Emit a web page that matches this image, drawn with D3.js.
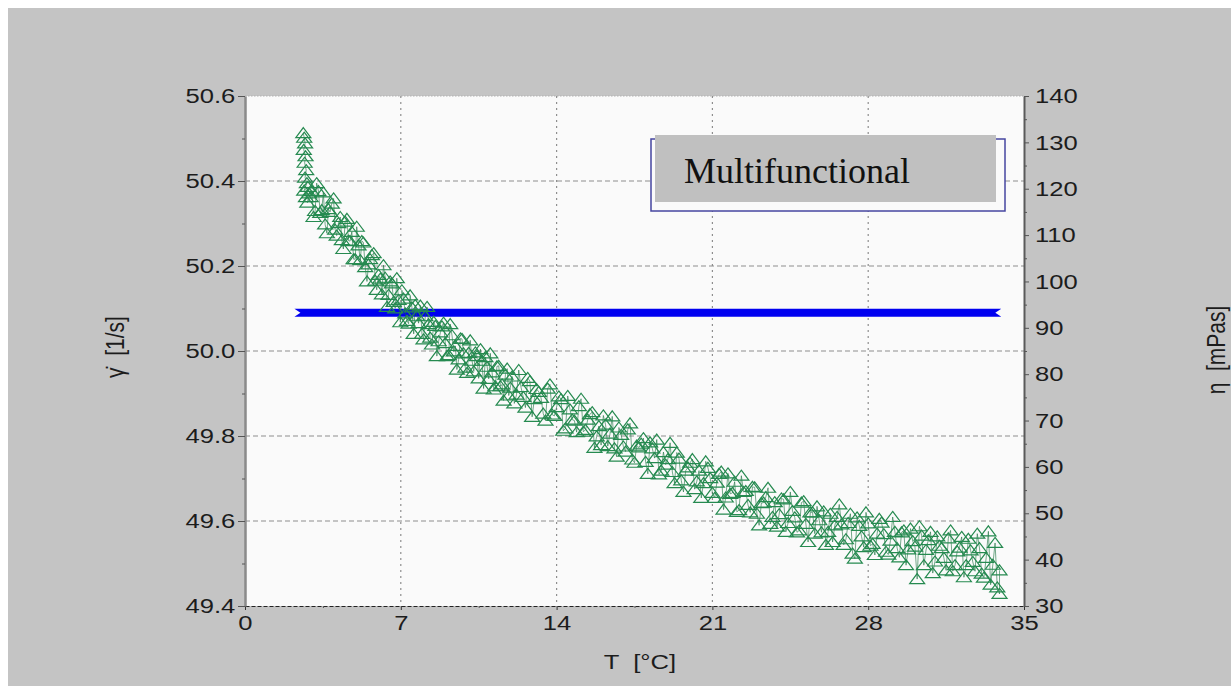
<!DOCTYPE html>
<html>
<head>
<meta charset="utf-8">
<script src="https://cdn.jsdelivr.net/npm/d3@7"></script>
<style>
  body { margin: 0; background: #ffffff; }
  svg text { font-family: "Liberation Sans", Arial, sans-serif; }
</style>
</head>
<body>
<svg id="drawing_region"></svg>
<script>
// temperature [°C] of the viscosity readings (first half of the samples)
const tempC = [
  2.62, 2.66, 2.70, 2.64, 2.72, 2.68, 2.75, 2.70, 2.78, 2.66, 2.82, 2.74, 2.88, 2.80, 2.95,
  3.00, 3.15, 3.30, 3.45, 3.60, 3.75, 3.90, 4.05, 4.20, 4.35, 4.50, 4.65, 4.80, 4.95, 5.10,
  5.25, 5.40, 5.55, 5.70, 5.85, 6.00, 6.15, 6.30, 6.45, 6.60, 6.75, 6.90, 7.05, 7.20, 7.35,
  7.50, 7.65, 7.80, 7.95, 8.10, 8.25, 8.40, 8.55, 8.70, 8.85, 9.00, 9.15, 9.30, 9.45, 9.60,
  9.75, 9.90, 10.05, 10.20, 10.35, 10.50, 10.65, 10.80, 10.95, 11.10, 11.25, 11.40, 11.55, 11.70, 11.85,
  12.0, 12.2, 12.4, 12.6, 12.8, 13.0, 13.2, 13.4, 13.6, 13.8,
  14.0, 14.2, 14.4, 14.6, 14.8, 15.0, 15.2, 15.4, 15.6, 15.8,
  16.0, 16.2, 16.4, 16.6, 16.8, 17.0, 17.2, 17.4, 17.6, 17.8,
  18.0, 18.2, 18.4, 18.6, 18.8, 19.0, 19.2, 19.4, 19.6, 19.8,
  20.0, 20.2, 20.4, 20.6, 20.8, 21.0, 21.2, 21.4, 21.6, 21.8,
  22.0, 22.2, 22.4, 22.6, 22.8, 23.0, 23.2, 23.4, 23.6, 23.8,
  24.0, 24.2, 24.4, 24.6, 24.8, 25.0, 25.2, 25.4, 25.6, 25.8,
  26.0, 26.2, 26.4, 26.6, 26.8, 27.0, 27.2, 27.4, 27.6, 27.8,
  28.0, 28.2, 28.4, 28.6, 28.8, 29.0, 29.2, 29.4, 29.6, 29.8,
  30.0, 30.2, 30.4, 30.6, 30.8, 31.0, 31.2, 31.4, 31.6, 31.8,
  32.0, 32.2, 32.4, 32.6, 32.8, 33.0, 33.2, 33.4, 33.6, 33.8, 33.9
];

// viscosity eta [mPas] for tempC
const viscosity = [
  132.0, 131.0, 129.8, 128.4, 127.0, 125.6, 124.0, 122.4, 121.2, 119.6, 120.4, 118.2, 119.0, 117.0, 118.2,
  119.5, 115.2, 119.5, 115.4, 112.3, 115.6, 116.8, 111.2, 112.6, 108.9, 112.9, 108.8, 110.7, 104.8, 107.8,
  108.7, 103.1, 103.7, 105.7, 100.2, 101.4, 97.2, 100.8, 97.1, 99.6, 94.2, 96.0, 98.1, 93.1, 90.9,
  94.4, 94.9, 91.0, 88.7, 92.5, 90.8, 86.4, 90.4, 87.1, 90.3, 86.7, 84.1, 88.4, 86.1, 83.2,
  87.6, 81.4, 84.6, 82.9, 84.7, 79.1, 82.9, 83.7, 79.0, 80.4, 77.4, 81.8, 77.8, 79.9, 75.4,
  79.5, 75.6, 77.2, 72.8, 78.5, 74.6, 76.2, 71.5, 76.9, 71.3,
  72.9, 74.6, 68.3, 72.4, 70.0, 73.1, 67.6, 70.2, 71.8, 66.6,
  64.7, 69.1, 67.2, 64.0, 68.5, 64.4, 68.1, 61.6, 64.6, 65.0,
  61.1, 65.3, 61.9, 58.4, 63.2, 61.7, 58.9, 63.1, 57.1, 59.2,
  60.9, 55.2, 59.2, 56.5, 59.8, 54.4, 56.6, 59.0, 53.4, 54.2,
  56.8, 50.7, 54.6, 51.8, 55.7, 49.9, 52.2, 53.5, 47.7, 52.4,
  49.8, 53.0, 47.9, 50.5, 45.9, 52.3, 47.7, 50.2, 45.6, 48.5,
  50.4, 46.0, 43.8, 49.2, 47.6, 44.4, 49.9, 40.2, 47.3, 42.7,
  47.8, 43.4, 45.6, 48.0, 41.7, 44.1, 46.0, 40.5, 46.3, 42.2,
  44.0, 35.8, 45.2, 42.1, 46.0, 39.6, 43.0, 40.4, 44.6, 37.5,
  41.8, 44.9, 38.8, 42.0, 37.5, 42.5, 36.1, 46.1, 38.9, 34.0, 32.6
];

// temperature [°C] of the in-between samples
const tempC2 = [
  3.08, 3.22, 3.38, 3.52, 3.68, 3.82, 3.98, 4.12, 4.28, 4.42, 4.58, 4.72, 4.88, 5.02, 5.18,
  5.32, 5.48, 5.62, 5.78, 5.92, 6.08, 6.22, 6.38, 6.52, 6.68, 6.82, 6.98, 7.12, 7.28, 7.42,
  7.58, 7.72, 7.88, 8.02, 8.18, 8.32, 8.48, 8.62, 8.78, 8.92, 9.08, 9.22, 9.38, 9.52, 9.68,
  9.82, 9.98, 10.12, 10.28, 10.42, 10.58, 10.72, 10.88, 11.02, 11.18, 11.32, 11.48, 11.62, 11.78, 11.92,
  12.1, 12.3, 12.5, 12.7, 12.9, 13.1, 13.3, 13.5, 13.7, 13.9,
  14.1, 14.3, 14.5, 14.7, 14.9, 15.1, 15.3, 15.5, 15.7, 15.9,
  16.1, 16.3, 16.5, 16.7, 16.9, 17.1, 17.3, 17.5, 17.7, 17.9,
  18.1, 18.3, 18.5, 18.7, 18.9, 19.1, 19.3, 19.5, 19.7, 19.9,
  20.1, 20.3, 20.5, 20.7, 20.9, 21.1, 21.3, 21.5, 21.7, 21.9,
  22.1, 22.3, 22.5, 22.7, 22.9, 23.1, 23.3, 23.5, 23.7, 23.9,
  24.1, 24.3, 24.5, 24.7, 24.9, 25.1, 25.3, 25.5, 25.7, 25.9,
  26.1, 26.3, 26.5, 26.7, 26.9, 27.1, 27.3, 27.5, 27.7, 27.9,
  28.1, 28.3, 28.5, 28.7, 28.9, 29.1, 29.3, 29.5, 29.7, 29.9,
  30.1, 30.3, 30.5, 30.7, 30.9, 31.1, 31.3, 31.5, 31.7, 31.9,
  32.1, 32.3, 32.5, 32.7, 32.9, 33.1, 33.3, 33.5, 33.7, 33.9
];

// viscosity eta [mPas] for tempC2
const viscosity2 = [
  113.9, 121.2, 114.8, 119.2, 110.4, 115.0, 117.9, 109.9, 113.9, 107.0, 113.5, 108.7, 104.8, 111.8, 104.6,
  108.4, 100.0, 104.8, 106.1, 98.2, 100.6, 103.5, 94.5, 100.0, 95.6, 100.7, 91.2, 96.3, 91.5, 97.0,
  88.7, 92.6, 94.8, 87.5, 94.5, 87.9, 91.3, 83.9, 89.0, 91.1, 83.9, 90.8, 84.9, 81.0, 87.7,
  84.5, 80.3, 87.3, 80.6, 83.9, 85.4, 76.9, 81.6, 84.5, 76.7, 81.7, 77.4, 74.3, 81.2, 77.1,
  73.7, 80.9, 75.1, 79.2, 70.8, 76.8, 74.9, 70.0, 77.8, 71.0,
  75.2, 67.8, 75.3, 70.2, 67.5, 74.7, 68.0, 71.4, 64.1, 68.8,
  71.1, 64.5, 70.9, 62.2, 66.9, 63.3, 69.4, 60.9, 64.2, 66.2,
  58.5, 64.0, 65.9, 59.2, 60.5, 65.2, 56.5, 61.8, 54.6, 59.9,
  61.7, 56.9, 53.3, 61.2, 57.6, 53.3, 58.5, 50.8, 58.6, 54.4,
  50.3, 58.1, 54.8, 50.2, 55.6, 47.4, 52.3, 55.5, 49.2, 47.1,
  53.2, 46.0, 54.6, 49.1, 46.3, 52.6, 43.8, 50.2, 51.5, 45.9,
  43.2, 49.9, 47.4, 51.9, 43.2, 47.9, 41.3, 49.1, 45.0, 50.2,
  43.0, 41.0, 48.8, 45.5, 41.1, 49.2, 42.5, 45.9, 38.8, 46.7,
  42.8, 47.2, 38.8, 44.2, 37.1, 45.0, 42.5, 37.7, 46.3, 38.8,
  42.6, 36.2, 44.5, 39.5, 45.6, 37.0, 40.4, 34.6, 43.6, 37.7
];

// shear rate (held constant over the run)
const shearTemp = [2.4, 33.8];
const shearRate = [50.09, 50.09];

const tempTicks = [0, 7, 14, 21, 28, 35];
const rateTicks = [49.4, 49.6, 49.8, 50.0, 50.2, 50.4, 50.6];
const viscTicks = [30, 40, 50, 60, 70, 80, 90, 100, 110, 120, 130, 140];
const legendLabel = "Multifunctional";

class DualAxisChart {
    constructor( config ){
        this.config = config;
        this.init();
    }

    init(){
        let self = this;
        const c = self.config;

        self.svg = d3.select( c.parent )
                     .attr('width', c.width)
                     .attr('height', c.height);

        // grey page behind everything
        self.svg.append('rect')
                .attr('x', 8).attr('y', 8)
                .attr('width', c.width - 8).attr('height', c.height - 8)
                .attr('fill', '#c4c4c4');

        self.inner_width = c.width - c.margin.left - c.margin.right;
        self.inner_height = c.height - c.margin.top - c.margin.bottom;

        self.chart = self.svg.append('g')
                         .attr('transform', `translate(${c.margin.left}, ${c.margin.top})`);

        self.xscale = d3.scaleLinear().domain([0, 35]).range([0, self.inner_width]);
        self.yleft = d3.scaleLinear().domain([49.4, 50.6]).range([self.inner_height, 0]);
        self.yright = d3.scaleLinear().domain([30, 140]).range([self.inner_height, 0]);
    }

    render(){
        let self = this;
        const iw = self.inner_width, ih = self.inner_height;
        const stretch = 'scale(1.22,1)';

        self.chart.append('rect')
                  .attr('width', iw).attr('height', ih)
                  .attr('fill', '#fafafa');

        // grid
        self.chart.selectAll('.hgrid')
                  .data(rateTicks.slice(1))
                  .enter().append('line')
                  .attr('x1', 0).attr('x2', iw)
                  .attr('y1', d => self.yleft(d)).attr('y2', d => self.yleft(d))
                  .attr('stroke', d => d === 50.6 ? '#b0b0b0' : '#8e8e8e')
                  .attr('stroke-dasharray', d => d === 50.6 ? '1.5,1.5' : '5,3')
                  .attr('stroke-width', 1);

        self.chart.selectAll('.vgrid')
                  .data(tempTicks.slice(1, -1))
                  .enter().append('line')
                  .attr('x1', d => self.xscale(d)).attr('x2', d => self.xscale(d))
                  .attr('y1', 0).attr('y2', ih)
                  .attr('stroke', '#8e8e8e')
                  .attr('stroke-dasharray', '2,4')
                  .attr('stroke-width', 1.2);

        // axes
        const styleText = g => g.selectAll('text')
                                .attr('transform', stretch)
                                .style('font-size', '21px')
                                .attr('fill', '#1c1c1c');

        const xAxis = self.chart.append('g')
                          .attr('transform', `translate(0, ${ih})`)
                          .call(d3.axisBottom(self.xscale).tickValues(tempTicks)
                                  .tickSize(4).tickSizeOuter(0).tickPadding(5)
                                  .tickFormat(d3.format('d')))
                          .call(styleText);
        xAxis.select('.domain').attr('stroke', '#222').attr('stroke-dasharray', '4,2');
        xAxis.selectAll('.tick line').attr('stroke', '#333');

        self.chart.append('g')
                  .attr('transform', `translate(0, ${ih})`)
                  .call(d3.axisBottom(self.xscale).tickValues(d3.range(3.5, 35, 7))
                          .tickSize(2).tickSizeOuter(0).tickFormat(''))
                  .call(g => g.select('.domain').remove())
                  .selectAll('line').attr('stroke', '#555');

        const yAxisL = self.chart.append('g')
                           .call(d3.axisLeft(self.yleft).tickValues(rateTicks)
                                   .tickSize(7).tickSizeOuter(0).tickPadding(1)
                                   .tickFormat(d3.format('.1f')))
                           .call(styleText);
        yAxisL.select('.domain').attr('stroke', '#8a8a8a').attr('stroke-width', 2.5);
        yAxisL.selectAll('.tick line').attr('stroke', '#555');

        self.chart.append('g')
                  .call(d3.axisLeft(self.yleft).tickValues(d3.range(49.5, 50.6, 0.2))
                          .tickSize(3).tickSizeOuter(0).tickFormat(''))
                  .call(g => g.select('.domain').remove())
                  .selectAll('line').attr('stroke', '#555');

        const yAxisR = self.chart.append('g')
                           .attr('transform', `translate(${iw}, 0)`)
                           .call(d3.axisRight(self.yright).tickValues(viscTicks)
                                   .tickSize(5).tickSizeOuter(0).tickPadding(4))
                           .call(styleText);
        yAxisR.select('.domain').attr('stroke', '#5a5a5a').attr('stroke-width', 2);
        yAxisR.selectAll('.tick line').attr('stroke', '#555');

        self.chart.append('g')
                  .attr('transform', `translate(${iw}, 0)`)
                  .call(d3.axisRight(self.yright).tickValues(d3.range(35, 140, 10))
                          .tickSize(3).tickSizeOuter(0).tickFormat(''))
                  .call(g => g.select('.domain').remove())
                  .selectAll('line').attr('stroke', '#555');

        // shear rate band (blue), notched at both ends
        const bx0 = self.xscale(shearTemp[0]) - 4, bx1 = self.xscale(shearTemp[1]) + 4;
        const by0 = self.yleft(shearRate[0]), by1 = self.yleft(shearRate[1]);
        self.chart.append('path')
                  .attr('d', `M${bx0},${by0 - 4}L${bx1},${by1 - 4}L${bx1 - 6},${by1}L${bx1},${by1 + 4}` +
                             `L${bx0},${by0 + 4}L${bx0 + 6},${by0}Z`)
                  .attr('fill', '#0000f0');

        // viscosity trace: both sample sets merged in temperature order
        const samples = tempC.map((t, i) => ({t: t, v: viscosity[i]}))
                             .concat(tempC2.map((t, i) => ({t: t, v: viscosity2[i]})));
        const ordered = samples.slice(15).sort((a, b) => a.t - b.t);
        const pts = samples.slice(0, 15).concat(ordered)
                           .map(d => [self.xscale(d.t), self.yright(d.v)]);

        self.chart.append('path')
                  .attr('d', d3.line()(pts))
                  .attr('fill', 'none')
                  .attr('stroke', '#17703c')
                  .attr('stroke-opacity', 0.75)
                  .attr('stroke-width', 0.8);

        self.chart.selectAll('.tri')
                  .data(pts)
                  .enter().append('path')
                  .attr('d', 'M0,-5.5L7.5,4.5L-7.5,4.5Z')
                  .attr('transform', d => `translate(${d[0]},${d[1]})`)
                  .attr('fill', 'none')
                  .attr('stroke', '#268a50')
                  .attr('stroke-width', 1.2);

        // legend box
        self.svg.append('rect')
                .attr('x', 651).attr('y', 139).attr('width', 354).attr('height', 72)
                .attr('fill', '#fafafa').attr('stroke', '#4646a0').attr('stroke-width', 1.5);
        self.svg.append('rect')
                .attr('x', 655).attr('y', 135).attr('width', 341).attr('height', 67)
                .attr('fill', '#c0c0c0');
        self.svg.append('text')
                .attr('x', 684).attr('y', 183)
                .style('font-family', '"Liberation Serif", "Times New Roman", serif')
                .style('font-size', '36px')
                .attr('fill', '#111')
                .text(legendLabel);

        // axis titles
        self.svg.append('g').attr('transform', 'translate(640, 669)')
                .append('text').attr('transform', stretch)
                .attr('text-anchor', 'middle').style('font-size', '21px')
                .style('white-space', 'pre').attr('fill', '#1c1c1c')
                .text('T  [°C]');

        self.svg.append('g').attr('transform', 'translate(124, 347) rotate(-90)')
                .append('text').attr('transform', 'scale(1,1.22)')
                .attr('text-anchor', 'middle').style('font-size', '21px')
                .style('white-space', 'pre').attr('fill', '#1c1c1c')
                .text('γ̇  [1/s]');

        self.svg.append('g').attr('transform', 'translate(1225, 350) rotate(-90)')
                .append('text').attr('transform', 'scale(1,1.22)')
                .attr('text-anchor', 'middle').style('font-size', '21px')
                .style('white-space', 'pre').attr('fill', '#1c1c1c')
                .text('η  [mPas]');
    }
}

const chart = new DualAxisChart({
    parent: '#drawing_region',
    width: 1231,
    height: 686,
    margin: {top: 96, right: 207, bottom: 80, left: 245}
});
chart.render();
</script>
</body>
</html>
